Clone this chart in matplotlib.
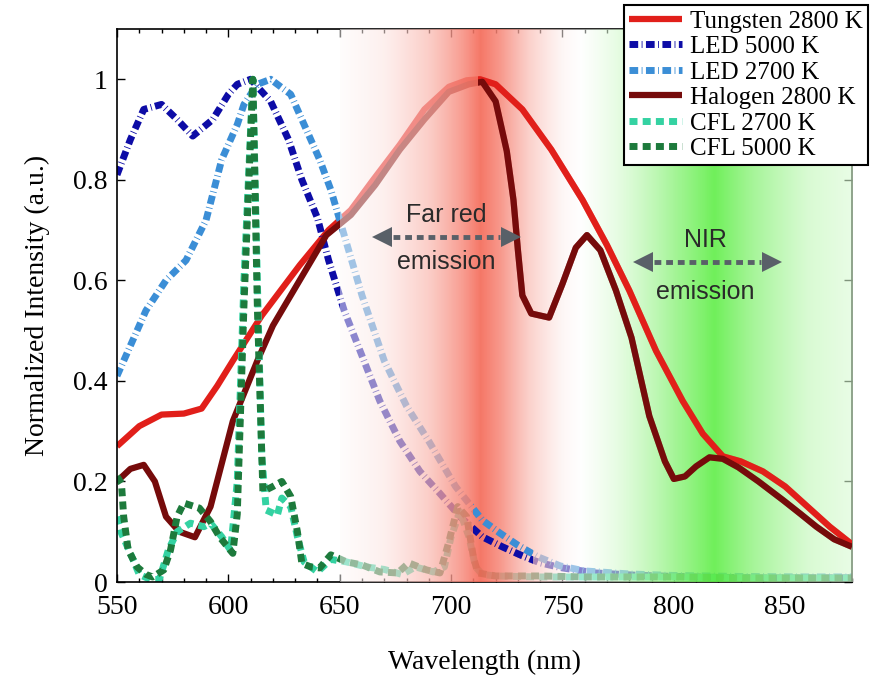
import numpy as np
import matplotlib
matplotlib.use("Agg")
import matplotlib.pyplot as plt
from matplotlib.patches import Rectangle
from matplotlib.ticker import MultipleLocator, FuncFormatter

# spectra (wavelength in nm, normalized intensity)
wl_tungsten = [550, 560, 570, 580, 588, 595, 602, 615, 632, 645, 655, 665, 677, 688, 699, 707,
               713, 720, 732, 745, 759, 770, 780, 792, 804, 813, 822, 830, 840, 850, 860, 870, 880]
int_tungsten = [0.27, 0.31, 0.333, 0.335, 0.345, 0.39, 0.44, 0.53, 0.63, 0.70, 0.74, 0.80, 0.87, 0.94,
                0.985, 0.998, 1.0, 0.99, 0.94, 0.86, 0.76, 0.67, 0.58, 0.46, 0.36, 0.295, 0.25, 0.24,
                0.22, 0.19, 0.15, 0.11, 0.075]

wl_led5000 = [550, 556, 562, 570, 577, 584, 593, 600, 604, 610, 619, 627, 633, 640, 645, 652, 660,
              668, 677, 686, 695, 704, 714, 723, 731, 740, 750, 765, 785, 810, 840, 880]
int_led5000 = [0.81, 0.88, 0.94, 0.95, 0.92, 0.887, 0.92, 0.97, 0.99, 1.0, 0.956, 0.88, 0.80, 0.724,
               0.64, 0.54, 0.45, 0.36, 0.28, 0.22, 0.176, 0.13, 0.09, 0.07, 0.054, 0.038, 0.028,
               0.018, 0.013, 0.01, 0.008, 0.008]

wl_led2700 = [550, 555, 563, 572, 581, 590, 597, 604, 607, 613, 619, 628, 635, 641, 646, 650, 660,
              670, 680, 690, 702, 714, 722, 730, 739, 749, 760, 780, 800, 830, 860, 880]
int_led2700 = [0.41, 0.46, 0.54, 0.60, 0.64, 0.72, 0.84, 0.91, 0.95, 0.99, 1.0, 0.97, 0.90, 0.84,
               0.78, 0.72, 0.57, 0.44, 0.35, 0.28, 0.19, 0.123, 0.097, 0.073, 0.05, 0.032, 0.022,
               0.016, 0.013, 0.011, 0.01, 0.01]

wl_halogen = [550, 556, 562, 567, 572, 578, 585, 592, 602, 613, 620, 632, 644, 655, 666, 677, 688,
              699, 708, 714, 720, 725, 728, 730, 732, 736, 744, 750, 756, 761, 767, 774, 781, 789,
              796, 800, 805, 810, 816, 822, 829, 838, 849, 857, 864, 872, 880]
int_halogen = [0.20, 0.225, 0.233, 0.20, 0.13, 0.10, 0.089, 0.15, 0.32, 0.44, 0.51, 0.60, 0.69,
               0.73, 0.79, 0.86, 0.92, 0.975, 0.99, 0.995, 0.956, 0.857, 0.76, 0.66, 0.57, 0.534,
               0.526, 0.593, 0.665, 0.69, 0.66, 0.58, 0.486, 0.33, 0.24, 0.205, 0.21, 0.23, 0.248,
               0.245, 0.228, 0.20, 0.163, 0.135, 0.11, 0.085, 0.07]

wl_cfl2700 = [550, 552, 556, 560, 565, 569, 573, 577, 583, 589, 592, 597, 601, 604, 607, 611, 613,
              615, 617, 622, 624, 628, 631, 634, 640, 646, 653, 662, 670, 678, 684, 692, 697, 700,
              704, 708, 711, 714, 720, 740, 760, 780, 800, 830, 860, 880]
int_cfl2700 = [0.13, 0.097, 0.057, 0.015, 0.005, 0.005, 0.063, 0.10, 0.117, 0.11, 0.117, 0.09,
               0.063, 0.2, 0.6, 1.0, 0.6, 0.25, 0.143, 0.133, 0.167, 0.15, 0.09, 0.04, 0.02, 0.045,
               0.04, 0.03, 0.025, 0.015, 0.03, 0.02, 0.03, 0.09, 0.14, 0.09, 0.03, 0.015, 0.012,
               0.01, 0.01, 0.01, 0.01, 0.008, 0.008, 0.008]

wl_cfl5000 = [550, 552, 553, 555, 559, 563, 566, 571, 574, 577, 580, 587, 592, 596, 602, 604, 607,
              611, 613, 615.5, 620, 624, 628, 631, 633, 637, 641, 646, 653, 660, 668, 676, 681,
              689, 695, 699, 703, 707, 710, 712, 720, 740, 760, 780, 800, 830, 860, 880]
int_cfl5000 = [0.21, 0.196, 0.13, 0.064, 0.03, 0.015, 0.01, 0.024, 0.063, 0.13, 0.157, 0.147, 0.12,
               0.09, 0.057, 0.135, 0.55, 1.0, 0.55, 0.18, 0.19, 0.20, 0.17, 0.10, 0.037, 0.03,
               0.028, 0.054, 0.04, 0.034, 0.02, 0.018, 0.038, 0.024, 0.018, 0.08, 0.15, 0.13, 0.05,
               0.018, 0.012, 0.012, 0.01, 0.01, 0.01, 0.008, 0.008, 0.008]

labels = ['Tungsten 2800 K', 'LED 5000 K', 'LED 2700 K', 'Halogen 2800 K', 'CFL 2700 K', 'CFL 5000 K']
wavelengths = [wl_tungsten, wl_led5000, wl_led2700, wl_halogen, wl_cfl2700, wl_cfl5000]
intensities = [int_tungsten, int_led5000, int_led2700, int_halogen, int_cfl2700, int_cfl5000]
colors = ['#e11f1a', '#0d0ca6', '#3b8ed6', '#760b0b', '#34d2a2', '#1d7a3c']

dashdot = (1.25, 0.5, 0.12, 0.5)
dashed = (1.15, 0.75)
styles = [None, dashdot, dashdot, None, dashed, dashed]
widths = [4.5, 5, 5, 4.5, 5, 5]

plt.rcParams['font.family'] = ['Liberation Serif', 'DejaVu Serif']

fig = plt.figure(figsize=(8.72, 6.83), dpi=100)
ax = fig.add_axes([117 / 872, 1 - 582 / 683, 735 / 872, 553 / 683])
ax.set_xlim(550, 880)
ax.set_ylim(0, 1.1)

for x, y, lab, c, ds, lw in zip(wavelengths, intensities, labels, colors, styles, widths):
    kw = dict(color=c, lw=lw, label=lab, zorder=2, solid_capstyle='butt', dash_capstyle='butt')
    if ds is not None:
        kw['dashes'] = ds
    ax.plot(x, y, **kw)

# far red / NIR shading laid over the curves
xs = np.linspace(650, 880, 600)
red = np.interp(xs, [650, 670, 690, 705, 713, 722, 735, 750, 758],
                [0.03, 0.18, 0.48, 0.8, 1.0, 0.82, 0.45, 0.1, 0.0])
green = np.interp(xs, [758, 775, 800, 818, 835, 860, 880], [0.0, 0.25, 0.68, 0.95, 0.68, 0.35, 0.22])
red_c = np.array([0.96, 0.42, 0.35])
green_c = np.array([0.34, 0.93, 0.24])
rgb = (1 - red - green)[:, None] * np.ones(3) + red[:, None] * red_c + green[:, None] * green_c
alpha = 0.5 + 0.42 * (red + green)
img = np.concatenate([rgb, alpha[:, None]], axis=1)[None, :, :]
ax.imshow(img, extent=[650, 880, 0, 1.1], aspect='auto', interpolation='bilinear', zorder=4,
          clip_on=False)

# parts of the curves that sit above the shading
for idx, x0, x1 in [(0, 712, 880), (3, 712, 880), (1, 710, 737), (2, 710, 737)]:
    kw = dict(color=colors[idx], lw=widths[idx], zorder=5, solid_capstyle='butt', dash_capstyle='butt')
    if styles[idx] is not None:
        kw['dashes'] = styles[idx]
    ln = ax.plot(wavelengths[idx], intensities[idx], **kw)[0]
    ln.set_clip_path(Rectangle((x0, 0), x1 - x0, 1.1, transform=ax.transData))

# emission arrows
arrow_c = '#596068'
def emission_arrow(x0, x1, y):
    ax.plot([x0 + 5, x1 - 5], [y, y], color=arrow_c, lw=3.5, dashes=(1.4, 1.0), zorder=7)
    ax.plot([x0], [y], marker='<', ms=15, color=arrow_c, mew=0, zorder=7)
    ax.plot([x1], [y], marker='>', ms=15, color=arrow_c, mew=0, zorder=7)

emission_arrow(669, 727, 0.686)
emission_arrow(786, 844, 0.637)
ann = dict(family=['Liberation Sans', 'DejaVu Sans'], fontsize=18, color='#2a2a2a',
           ha='center', va='center', zorder=8)
ax.text(698, 0.730, 'Far red', **ann)
ax.text(698, 0.637, 'emission', **ann)
ax.text(814, 0.680, 'NIR', **ann)
ax.text(814, 0.577, 'emission', **ann)

ax.xaxis.set_major_locator(MultipleLocator(50))
ax.xaxis.set_minor_locator(MultipleLocator(10))
ax.yaxis.set_major_locator(MultipleLocator(0.2))
ax.yaxis.set_major_formatter(FuncFormatter(lambda v, p: f'{v:g}'))
ax.tick_params(which='both', direction='in', top=True, right=True, labelsize=20, width=1)
ax.tick_params(which='major', length=6)
ax.tick_params(which='minor', length=3)
ax.tick_params(axis='x', pad=9)
ax.tick_params(axis='y', pad=7)
for sp in ax.spines.values():
    sp.set_linewidth(1.2)

ax.set_xlabel('Wavelength (nm)', fontsize=20, labelpad=22)
ax.set_ylabel('Normalized Intensity (a.u.)', fontsize=20, labelpad=16)

leg = ax.legend(loc='upper right', bbox_to_anchor=(1.022, 1.043), borderaxespad=0, fontsize=18,
                handlelength=2.1, handletextpad=0.35, labelspacing=0.12, borderpad=0.2,
                fancybox=False, framealpha=1, edgecolor='black')
leg.get_frame().set_linewidth(1.5)
leg.set_zorder(10)

fig.savefig('out.png', dpi=100)
